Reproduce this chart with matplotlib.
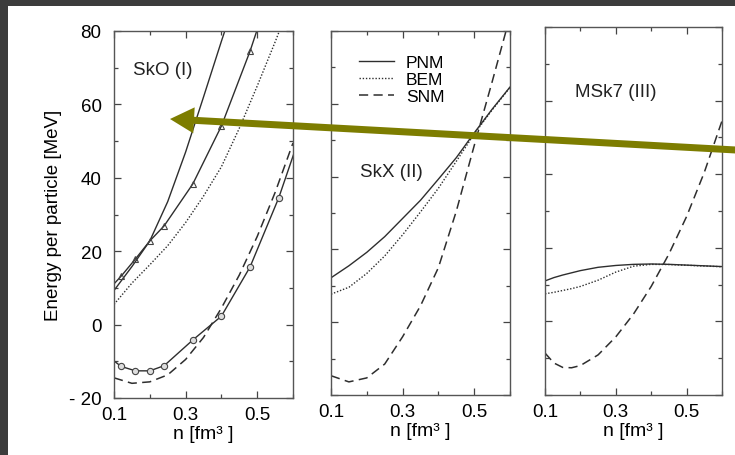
import numpy as np
import matplotlib
matplotlib.use("Agg")
import matplotlib.pyplot as plt
from matplotlib.patches import Rectangle, FancyArrow
from matplotlib.ticker import MultipleLocator, FixedLocator

plt.rcParams['font.family'] = ['Liberation Sans', 'DejaVu Sans']

# ---- data ----
n_grid = [0.1, 0.15, 0.2, 0.25, 0.3, 0.35, 0.4, 0.45, 0.5, 0.55, 0.6]

# panel I : SkO
sko_pnm = [9.3, 15.8, 22.8, 33.5, 47.0, 62.0, 77.2, 92.0, 107.0, 122.0, 137.0]
sko_bem = [5.5, 11.3, 16.3, 21.5, 27.8, 35.0, 43.0, 53.5, 65.0, 77.0, 89.5]
sko_snm = [-14.5, -16.0, -15.6, -13.7, -9.5, -3.5, 4.5, 13.5, 24.0, 36.0, 49.5]
tri_n = [0.08, 0.12, 0.16, 0.2, 0.24, 0.32, 0.4, 0.48, 0.56]
tri_e = [9.0, 13.2, 17.9, 22.8, 26.9, 38.3, 54.1, 74.5, 98.0]
circ_n = [0.08, 0.12, 0.16, 0.2, 0.24, 0.32, 0.4, 0.48, 0.56, 0.64]
circ_e = [-8.4, -11.4, -12.6, -12.6, -11.2, -4.2, 2.3, 15.7, 34.5, 57.3]

# panel II : SkX
skx_pnm = [12.2, 15.5, 19.2, 23.5, 28.5, 33.5, 39.3, 45.2, 52.0, 58.5, 64.6]
skx_bem = [7.7, 9.6, 13.4, 18.2, 24.0, 30.3, 36.8, 44.2, 51.7, 58.3, 64.5]
skx_snm = [-14.7, -16.4, -15.3, -11.5, -4.0, 4.5, 15.0, 30.5, 48.5, 66.0, 84.0]

# panel III : MSk7
n_fine = [0.1, 0.125, 0.15, 0.175, 0.2, 0.25, 0.3, 0.35, 0.4, 0.45, 0.5, 0.55, 0.6]
msk_pnm = [11.0, 11.9, 12.6, 13.2, 13.8, 14.7, 15.2, 15.5, 15.6, 15.5, 15.3, 15.1, 14.9]
msk_bem = [7.5, 7.9, 8.4, 8.9, 9.5, 11.2, 13.4, 15.0, 15.5, 15.45, 15.25, 15.05, 14.85]
msk_snm = [-8.6, -11.3, -12.5, -12.6, -12.0, -9.1, -4.2, 2.0, 9.5, 18.3, 28.5, 40.5, 54.5]

labels = ["SkO (I)", "SkX (II)", "MSk7 (III)"]

W, H = 735, 456
LINE = '#2e2e2e'


def box(l, t, r, b):
    return [l / W, (H - b) / H, (r - l) / W, (b - t) / H]


def style(ax, first):
    ax.set_xlim(0.1, 0.6)
    ax.set_ylim(-20, 80)
    ax.xaxis.set_major_locator(FixedLocator([0.1, 0.3, 0.5]))
    ax.xaxis.set_minor_locator(FixedLocator([0.2, 0.4, 0.6]))
    ax.yaxis.set_major_locator(MultipleLocator(20))
    ax.yaxis.set_minor_locator(MultipleLocator(10))
    ax.tick_params(which='both', direction='in', top=True, right=True,
                   color='#444444', width=0.9, labelsize=13.5, pad=6)
    ax.tick_params(which='major', length=5)
    ax.tick_params(which='minor', length=3)
    ax.set_xticklabels(['0.1', '0.3', '0.5'])
    if first:
        ax.set_yticks([-20, 0, 20, 40, 60, 80])
        ax.set_yticklabels(['- 20', '0', '20', '40', '60', '80'])
        ax.tick_params(axis='y', pad=9)
    else:
        ax.set_yticklabels([])
    for s in ax.spines.values():
        s.set_color('#555555')
        s.set_linewidth(1.0)
    ax.set_xlabel('n [fm³ ]', fontsize=14, labelpad=1)


fig = plt.figure(figsize=(7.35, 4.56), dpi=100)
fig.patch.set_facecolor('white')

ax1 = fig.add_axes(box(114, 32, 293, 399))
ax2 = fig.add_axes(box(331, 32, 510, 396))
ax3 = fig.add_axes(box(545, 28, 722, 396))

dash = (0, (6, 3.5))
dot = (0, (1, 1.3))

# panel I
ax1.plot(n_grid, sko_pnm, color=LINE, lw=1.0)
ax1.plot(n_grid, sko_bem, color=LINE, lw=1.0, linestyle=dot)
ax1.plot(n_grid, sko_snm, color=LINE, lw=1.1, linestyle=dash)
ax1.plot(tri_n, tri_e, color=LINE, lw=1.0, marker='^', ms=4.5,
         mfc='none', mec='#444444', mew=0.8)
ax1.plot(circ_n, circ_e, color=LINE, lw=1.0, marker='o', ms=4.5,
         mfc='#dddddd', mec='#444444', mew=0.8)
ax1.set_ylabel('Energy per particle [MeV]', fontsize=13.5, labelpad=5)

# panel II
l1, = ax2.plot(n_grid, skx_pnm, color=LINE, lw=1.0, label='PNM')
l2, = ax2.plot(n_grid, skx_bem, color=LINE, lw=1.0, linestyle=dot, label='BEM')
l3, = ax2.plot(n_grid, skx_snm, color=LINE, lw=1.1, linestyle=dash, label='SNM')
ax2.legend(handles=[l1, l2, l3], loc='upper left', bbox_to_anchor=(0.157, 0.935),
           frameon=False, fontsize=12.5, handlelength=2.0, handletextpad=0.7,
           labelspacing=0.12, borderpad=0, borderaxespad=0)

# panel III
ax3.plot(n_fine, msk_pnm, color=LINE, lw=1.0)
ax3.plot(n_fine, msk_bem, color=LINE, lw=1.0, linestyle=dot)
ax3.plot(n_fine, msk_snm, color=LINE, lw=1.1, linestyle=dash)

for ax, first in [(ax1, True), (ax2, False), (ax3, False)]:
    style(ax, first)

ax1.text(0.27, 0.895, labels[0], transform=ax1.transAxes, fontsize=13.5,
         ha='center', va='center', color='#222222')
ax2.text(0.34, 0.615, labels[1], transform=ax2.transAxes, fontsize=13.5,
         ha='center', va='center', color='#222222')
ax3.text(0.40, 0.825, labels[2], transform=ax3.transAxes, fontsize=13.5,
         ha='center', va='center', color='#222222')

# overlay: dark scan border and the olive arrow
over = fig.add_axes([0, 0, 1, 1], zorder=10)
over.set_xlim(0, W)
over.set_ylim(H, 0)
over.axis('off')
over.patch.set_alpha(0)
over.add_patch(Rectangle((0, 0), W, 7, color='#3c3c3c', lw=0))
over.add_patch(Rectangle((0, 0), 8, H, color='#3c3c3c', lw=0))
over.add_patch(FancyArrow(745, 151.5, -575, -31.5, width=7, head_width=26,
                          head_length=24, length_includes_head=True,
                          color='#7d7d00', lw=0))

fig.savefig('out.png', dpi=100)
